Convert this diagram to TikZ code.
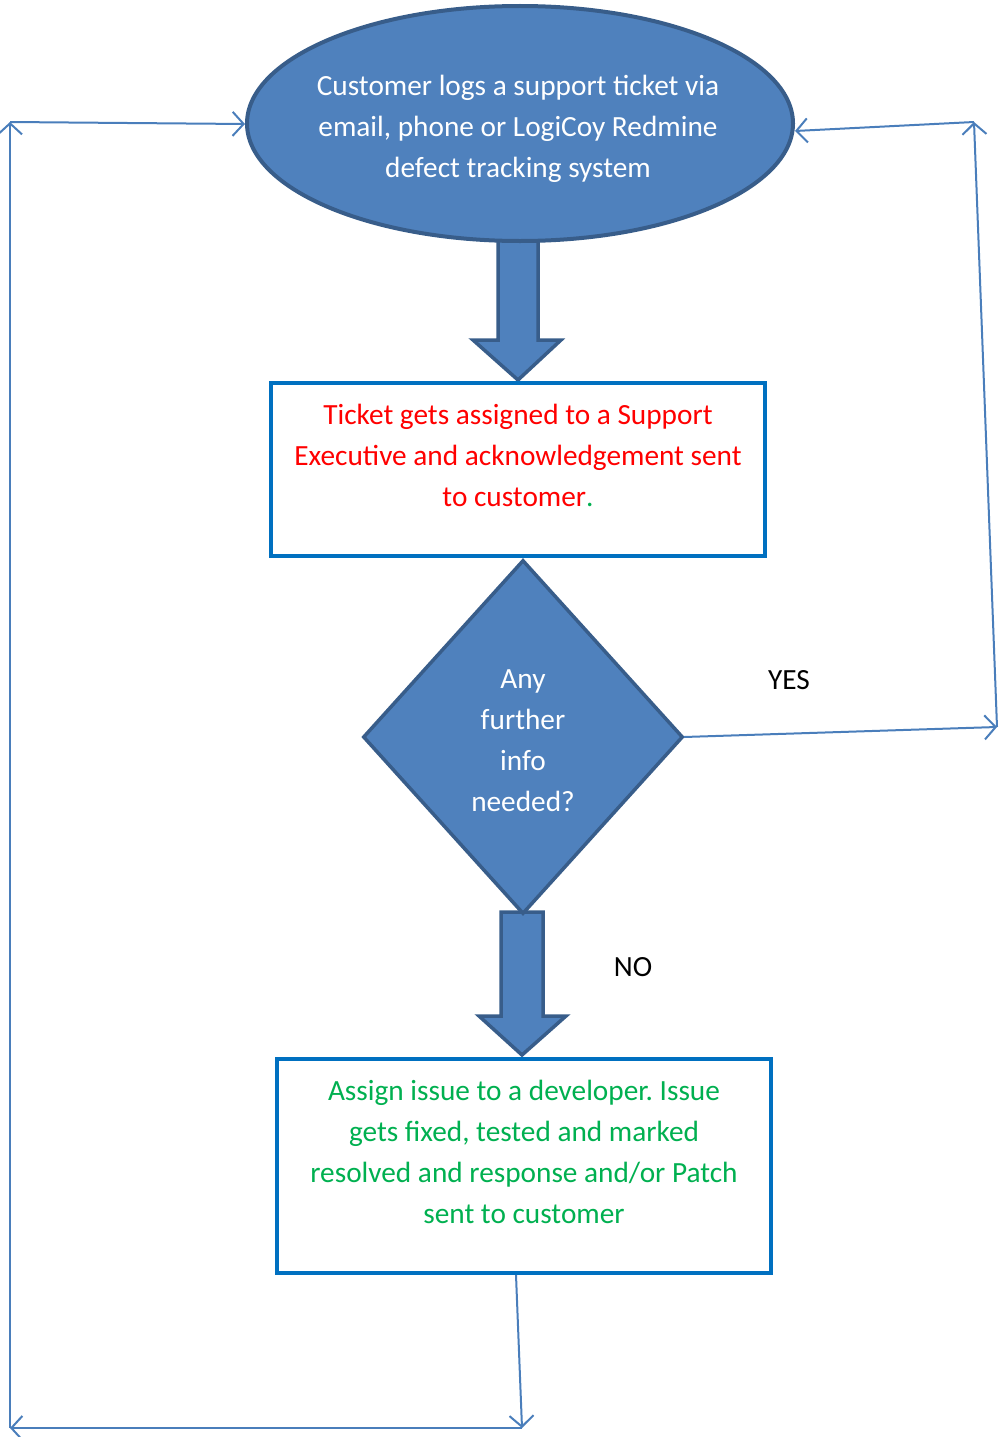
\documentclass[tikz,border=0pt]{standalone}
\usepackage{fontspec}
\setmainfont{Carlito}
\frenchspacing
\usetikzlibrary{shapes.geometric,arrows.meta}
\definecolor{shapefill}{RGB}{79,129,189}
\definecolor{shapeline}{RGB}{56,93,138}
\definecolor{boxline}{RGB}{0,112,192}
\definecolor{connc}{RGB}{74,126,187}
\definecolor{txtred}{RGB}{255,0,0}
\definecolor{txtgreen}{RGB}{0,176,80}
\tikzset{
  blockarrow/.style={fill=shapefill,draw=shapeline,line width=3.5pt,line join=miter},
  boxnode/.style={draw=boxline,line width=4pt,fill=white,inner sep=0pt},
  txt/.style={align=center,font=\fontsize{29.3}{41}\selectfont,inner sep=0pt},
  conn/.style={draw=connc,line width=2pt,-{Straight Barb[length=11pt,width=24pt,line width=2pt]}},
}
\begin{document}
\begin{tikzpicture}[x=1pt,y=-1pt]
\useasboundingbox (0,0) rectangle (1001,1437);
% block arrows
\draw[blockarrow] (498,236) -- (538,236) -- (538,340) -- (561,340) -- (518,380) -- (473,340) -- (498,340) -- cycle;
\draw[blockarrow] (501,912) -- (543,912) -- (543,1016) -- (566,1016) -- (522,1055) -- (479,1016) -- (501,1016) -- cycle;
% ellipse
\node[ellipse,fill=shapefill,draw=shapeline,line width=4pt,minimum width=546pt,minimum height=235pt,inner sep=0pt] (e) at (520,123.5) {};
\node[txt,text=white] (et) at (518,129) {Customer logs a support ticket via\\email, phone or LogiCoy Redmine\\defect tracking system};
% box 1
\node[boxnode,minimum width=494pt,minimum height=173pt] (b1) at (518,469.5) {};
\node[txt,text=txtred] (b1t) at (518,455) {Ticket gets assigned to a Support\\Executive and acknowledgement sent\\to customer\textcolor{txtgreen}{.}};
% diamond
\node[diamond,fill=shapefill,draw=shapeline,line width=3.5pt,minimum width=320pt,minimum height=354pt,inner sep=0pt] (d) at (523,737) {};
\node[txt,text=white] (dt) at (523,741) {Any\\further\\info\\needed?};
% box 2
\node[boxnode,minimum width=494pt,minimum height=214pt] (b2) at (524,1166) {};
\node[txt,text=txtgreen] (b2t) at (524,1152) {Assign issue to a developer. Issue\\gets fixed, tested and marked\\resolved and response and/or Patch\\sent to customer};
% labels
\node[txt] (yes) at (789,680) {YES};
\node[txt] (no) at (633,967) {NO};
% connector points
\coordinate (b2out) at (516,1275);
\coordinate (cB) at (522,1428);
\coordinate (cBL) at (10,1428);
\coordinate (cL) at (10,122);
\coordinate (eL) at (245,124);
\coordinate (cR) at (997,727);
\coordinate (cRT) at (974,122);
\coordinate (eR) at (795,131);
\coordinate (dR) at (684,737);
\draw[conn] (b2out) -- (cB);
\draw[conn] (cB) -- (cBL);
\draw[conn] (cBL) -- (cL);
\draw[conn] (cL) -- (eL);
\draw[conn] (dR) -- (cR);
\draw[conn] (cR) -- (cRT);
\draw[conn] (cRT) -- (eR);
\end{tikzpicture}
\end{document}
